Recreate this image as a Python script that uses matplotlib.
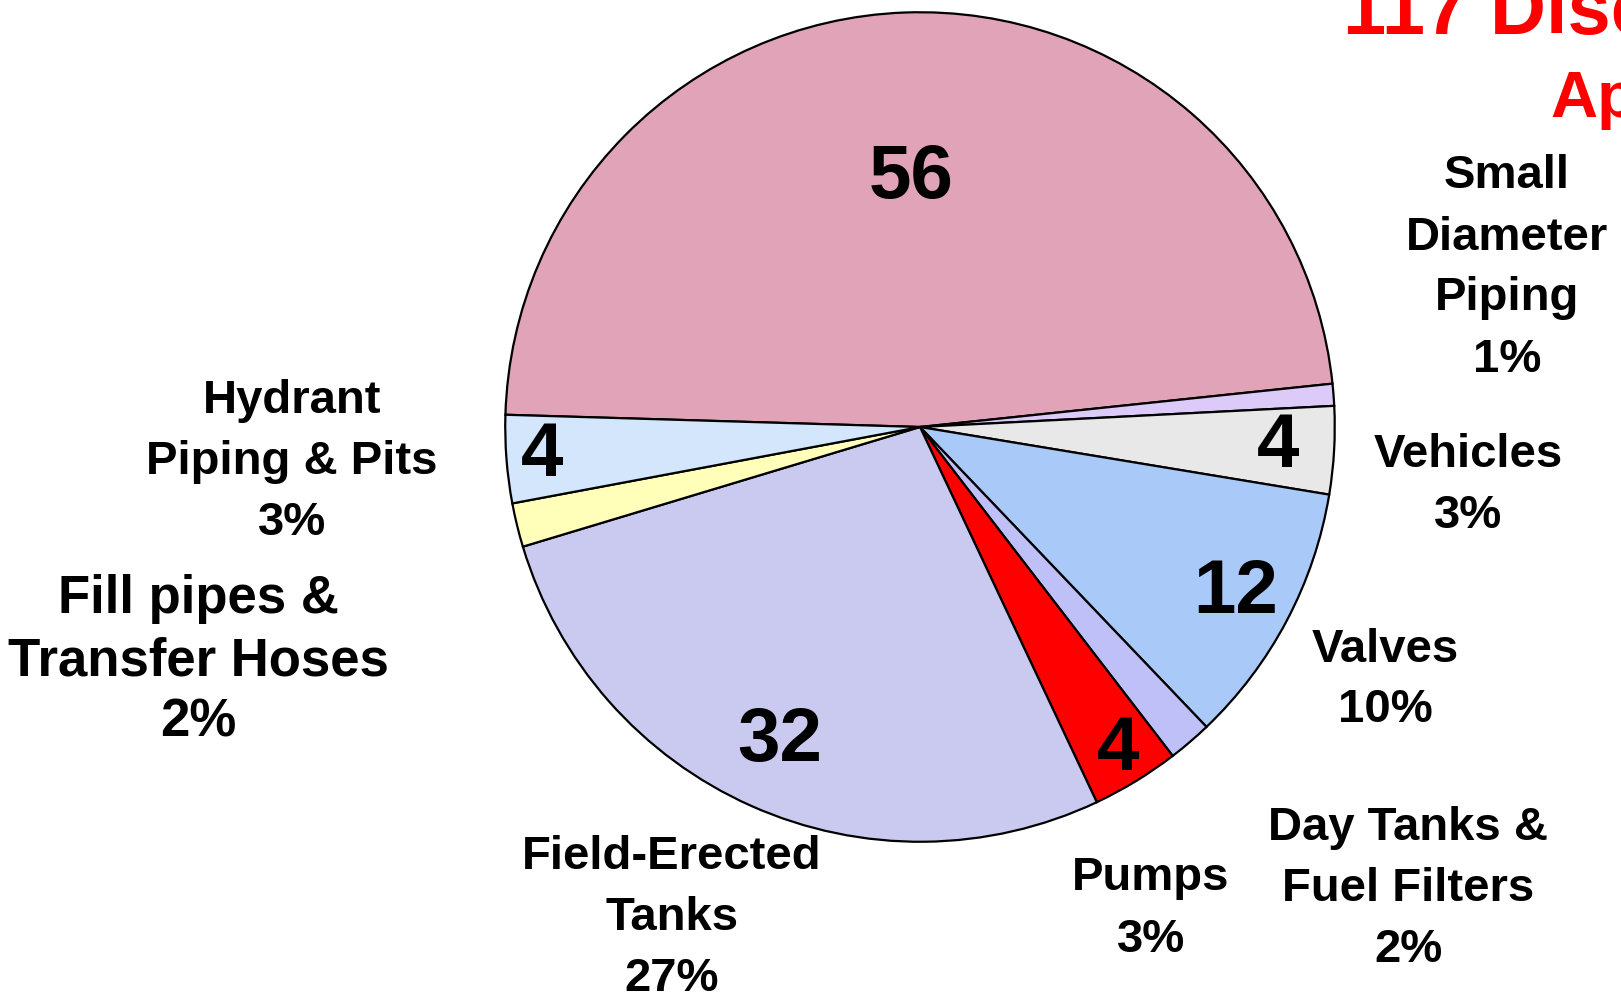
"""
    Pie chart of discrepancies by fuel system component.
"""
########################################################################################################################
# Imports
########################################################################################################################

import matplotlib
matplotlib.use("Agg")
import matplotlib.pyplot as plt
import numpy as np

########################################################################################################################
# Globals & Constants
########################################################################################################################

# Slices, in clockwise order starting from the large top slice.
categories = ["Other", "Small Diameter Piping", "Vehicles", "Valves", "Day Tanks & Fuel Filters",
              "Pumps", "Field-Erected Tanks", "Fill pipes & Transfer Hoses", "Hydrant Piping & Pits"]
counts = [56, 1, 4, 12, 2, 4, 32, 2, 4]
percent_labels = ["", "1%", "3%", "10%", "2%", "3%", "27%", "2%", "3%"]
outer_labels = ["", "Small\nDiameter\nPiping", "Vehicles", "Valves", "Day Tanks &\nFuel Filters",
                "Pumps", "Field-Erected\nTanks", "Fill pipes &\nTransfer Hoses", "Hydrant\nPiping & Pits"]
show_count = [True, False, True, True, False, True, True, False, True]

title_line1 = "117 Discrepancies"
title_line2 = "April"

# Styling
colors = ["#E0A3B8", "#DCCAF8", "#E8E8E8", "#A9C9F8", "#C0C0F8", "#FF0000", "#CACAF0", "#FFFFBA", "#D3E6FC"]
count_radius = [0.60, 0.0, 0.865, 0.86, 0.0, 0.915, 0.83, 0.0, 0.915]
# Outer label block centres, in pixels from the top left corner.
label_pos = [None, (1507, 268), (1468, 485), (1385, 680), (1408, 889),
             (1151, 909), (672, 918), (198, 661), (292, 462)]
label_size = [0, 34, 34, 34, 34, 34, 34, 38, 34]
label_spacing = [0, 1.5, 1.5, 1.5, 1.5, 1.5, 1.5, 1.3, 1.5]

FIG_W, FIG_H = 1621, 1008
CENTER = (920, 427)
RADIUS = 416
FONT = "Liberation Sans"

########################################################################################################################
# Script: Body
########################################################################################################################


def px(x, y):
    """Converts pixel coordinates (origin top left) to figure fraction."""
    return x / FIG_W, 1 - y / FIG_H


def plot_pie():
    fig = plt.figure(figsize=(FIG_W / 100, FIG_H / 100), dpi=100)
    fig.patch.set_facecolor("white")

    cx, cy = CENTER
    ax = fig.add_axes([(cx - RADIUS) / FIG_W, (FIG_H - cy - RADIUS) / FIG_H,
                       2 * RADIUS / FIG_W, 2 * RADIUS / FIG_H])

    total = sum(counts)
    start = 6 + counts[0] / total * 360
    wedges, _ = ax.pie(counts, colors=colors, startangle=start, counterclock=False, radius=1,
                       wedgeprops=dict(edgecolor="black", linewidth=1.6))
    # pie() pads the limits, take that back so the radius fills the axes
    ax.set_xlim(-1.003, 1.003)
    ax.set_ylim(-1.003, 1.003)
    ax.axis("off")

    # counts inside the slices
    for w, n, r, show in zip(wedges, counts, count_radius, show_count):
        if not show:
            continue
        mid = np.deg2rad((w.theta1 + w.theta2) / 2)
        ax.text(r * np.cos(mid), r * np.sin(mid), str(n), ha="center", va="center",
                fontsize=55, fontweight="bold", family=FONT, color="black")

    # category labels round the pie
    for lab, pct, pos, size, ls in zip(outer_labels, percent_labels, label_pos, label_size, label_spacing):
        if pos is None:
            continue
        x, y = px(*pos)
        fig.text(x, y, lab + "\n" + pct, ha="center", va="center", multialignment="center",
                 fontsize=size, fontweight="bold", family=FONT, linespacing=ls, color="black")

    # title, partly cut by the figure edge as in the original slide
    x, y = px(1343, 34)
    fig.text(x, y, title_line1, ha="left", va="baseline", fontsize=56, fontweight="bold",
             family=FONT, color="#FF0000")
    x, y = px(1550, 117)
    fig.text(x, y, title_line2, ha="left", va="baseline", fontsize=47, fontweight="bold",
             family=FONT, color="#FF0000")

    fig.savefig("out.png", dpi=100)


def main():
    plot_pie()
    return 0


if __name__ == "__main__":
    exit(main())
